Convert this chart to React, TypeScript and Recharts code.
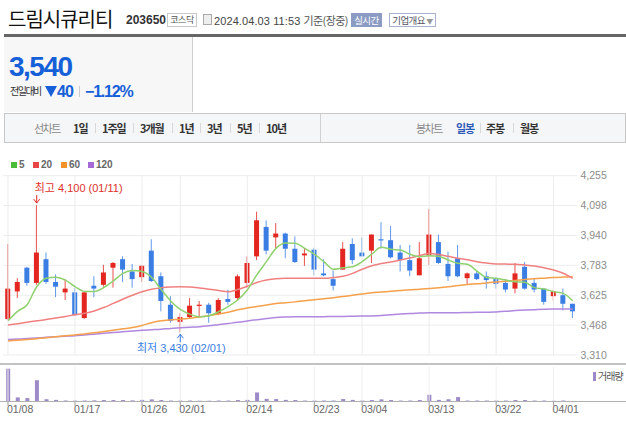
import React from 'react';
import { ComposedChart, BarChart, Bar, Line, XAxis, YAxis, CartesianGrid, ReferenceLine, ReferenceDot } from 'recharts';

// trading days shown on the daily candle chart
const dates = [
  '01/08', '01/09', '01/10', '01/11', '01/12', '01/15', '01/16', '01/17', '01/18', '01/19',
  '01/22', '01/23', '01/24', '01/25', '01/26', '01/29', '01/30', '01/31', '02/01', '02/02',
  '02/05', '02/06', '02/07', '02/08', '02/13', '02/14', '02/15', '02/16', '02/19', '02/20',
  '02/21', '02/22', '02/23', '02/26', '02/27', '02/28', '02/29', '03/04', '03/05', '03/06',
  '03/07', '03/08', '03/11', '03/12', '03/13', '03/14', '03/15', '03/18', '03/19', '03/20',
  '03/21', '03/22', '03/25', '03/26', '03/27', '03/28', '03/29', '04/01', '04/02', '04/03',
];

const openPrices = [
  3500, 3645, 3770, 3690, 3815, 3695, 3640, 3640, 3505, 3675,
  3680, 3770, 3815, 3750, 3720, 3860, 3725, 3575, 3485, 3510,
  3570, 3575, 3525, 3605, 3610, 3690, 3830, 3985, 3930, 3950,
  3870, 3835, 3865, 3740, 3710, 3760, 3895, 3850, 3860, 3920,
  3915, 3850, 3810, 3730, 3835, 3905, 3790, 3820, 3715, 3740,
  3725, 3710, 3690, 3660, 3775, 3690, 3660, 3620, 3625, 3580,
];
const highPrices = [
  3895, 3715, 3775, 4100, 3850, 3735, 3710, 3665, 3645, 3725,
  3785, 3800, 3830, 3790, 3785, 3920, 3745, 3620, 3530, 3610,
  3595, 3585, 3610, 3655, 3735, 3830, 4065, 4020, 4005, 3955,
  3935, 3870, 3875, 3815, 3755, 3905, 3925, 3930, 3945, 4010,
  3990, 3890, 3890, 3905, 4080, 3945, 3855, 3890, 3745, 3755,
  3750, 3720, 3710, 3795, 3800, 3715, 3660, 3655, 3660, 3580,
];
const lowPrices = [
  3495, 3610, 3675, 3680, 3685, 3615, 3600, 3515, 3500, 3615,
  3670, 3665, 3695, 3665, 3695, 3695, 3540, 3480, 3430, 3500,
  3505, 3480, 3520, 3575, 3595, 3665, 3810, 3840, 3870, 3820,
  3795, 3780, 3730, 3725, 3650, 3760, 3790, 3830, 3795, 3870,
  3820, 3750, 3725, 3730, 3785, 3790, 3700, 3720, 3685, 3705,
  3660, 3660, 3640, 3635, 3655, 3640, 3575, 3595, 3545, 3505,
];
const closePrices = [
  3660, 3695, 3690, 3850, 3695, 3670, 3660, 3520, 3640, 3660,
  3745, 3795, 3760, 3710, 3780, 3700, 3595, 3490, 3510, 3570,
  3575, 3530, 3600, 3590, 3725, 3795, 4020, 3860, 3950, 3870,
  3800, 3845, 3760, 3730, 3675, 3870, 3810, 3830, 3945, 3915,
  3825, 3810, 3755, 3820, 3945, 3795, 3725, 3725, 3740, 3710,
  3705, 3685, 3655, 3740, 3660, 3655, 3590, 3645, 3580, 3540,
];
// volume, thousands of shares
const volumes = [
  1000, 130, 110, 650, 75, 55, 35, 35, 35, 40,
  50, 50, 50, 40, 55, 70, 50, 35, 35, 35,
  30, 30, 35, 35, 50, 55, 280, 85, 80, 55,
  50, 35, 35, 35, 35, 80, 55, 35, 50, 70,
  50, 35, 35, 50, 210, 55, 75, 140, 35, 35,
  35, 35, 35, 50, 50, 35, 35, 30, 35, 15,
];

// moving averages as drawn on the chart
const ma5 = [
  3490, 3540, 3575, 3670, 3715, 3720, 3705, 3670, 3645, 3645,
  3665, 3700, 3740, 3755, 3750, 3720, 3655, 3595, 3550, 3525,
  3512, 3517, 3538, 3565, 3600, 3653, 3732, 3802, 3872, 3900,
  3899, 3872, 3841, 3802, 3762, 3770, 3775, 3802, 3841, 3878,
  3867, 3863, 3841, 3828, 3833, 3830, 3811, 3793, 3788, 3752,
  3719, 3714, 3705, 3696, 3693, 3665, 3658, 3644, 3635, 3596,
];
const ma20 = [
  3468, 3475, 3483, 3490, 3497, 3505, 3513, 3522, 3530, 3542,
  3560, 3582, 3604, 3625, 3643, 3657, 3664, 3668, 3670, 3668,
  3663, 3657, 3650, 3643, 3655, 3672, 3692, 3705, 3712, 3714,
  3714, 3714, 3714, 3714, 3718, 3725, 3740, 3762, 3780, 3792,
  3800, 3811, 3822, 3833, 3845, 3840, 3830, 3820, 3812, 3802,
  3795, 3790, 3789, 3788, 3784, 3779, 3770, 3758, 3741, 3714,
];
const ma60 = [
  3384, 3388, 3392, 3396, 3401, 3406, 3411, 3416, 3421, 3427,
  3434, 3441, 3448, 3455, 3466, 3480, 3490, 3495, 3499, 3504,
  3510, 3517, 3526, 3535, 3548, 3558, 3566, 3574, 3581, 3585,
  3590, 3596, 3601, 3607, 3612, 3618, 3625, 3632, 3638, 3642,
  3646, 3650, 3654, 3657, 3661, 3665, 3670, 3676, 3682, 3685,
  3690, 3695, 3699, 3703, 3708, 3712, 3715, 3718, 3721, 3723,
];
const ma120 = [
  3392, 3394, 3397, 3400, 3403, 3406, 3409, 3412, 3416, 3420,
  3424, 3428, 3432, 3436, 3440, 3443, 3446, 3450, 3453, 3456,
  3459, 3464, 3470, 3476, 3482, 3489, 3496, 3502, 3508, 3510,
  3511, 3511, 3512, 3512, 3513, 3513, 3514, 3515, 3516, 3518,
  3522, 3526, 3529, 3531, 3533, 3533, 3533, 3533, 3534, 3535,
  3535, 3537, 3540, 3544, 3547, 3549, 3551, 3552, 3552, 3552,
];

const tickDates = ['01/08', '01/17', '01/26', '02/01', '02/14', '02/23', '03/04', '03/13', '03/22', '04/01'];
const priceTicks = [3310, 3467.5, 3625, 3782.5, 3940, 4097.5, 4255];
const highMark = { date: '01/11', value: 4100 };
const lowMark = { date: '02/01', value: 3430 };

const data = dates.map((date, i) => ({
  date,
  open: openPrices[i],
  high: highPrices[i],
  low: lowPrices[i],
  close: closePrices[i],
  range: [lowPrices[i], highPrices[i]],
  volume: volumes[i],
  ma5: ma5[i],
  ma20: ma20[i],
  ma60: ma60[i],
  ma120: ma120[i],
}));

const UP = '#e3261f';
const DOWN = '#3a7ee4';
const fmt = (v: number) => Math.round(v).toLocaleString('en-US');

const Candle = (props: any) => {
  const { x, y, width, height, payload } = props;
  const { open, close, high, low } = payload;
  const cx = x + width / 2;
  const span = high - low;
  const toY = (v: number) => (span > 0 ? y + ((high - v) / span) * height : y);
  const color = close >= open ? UP : DOWN;
  const top = toY(Math.max(open, close));
  const bottom = toY(Math.min(open, close));
  return (
    <g>
      <line x1={cx} x2={cx} y1={y} y2={y + height} stroke={color} strokeWidth={1} strokeOpacity={0.8} />
      <rect x={cx - 2.5} y={top} width={5} height={Math.max(bottom - top, 1.2)} fill={color} />
    </g>
  );
};

const HighLabel = (props: any) => {
  const { cx, cy } = props;
  const c = '#e0302a';
  return (
    <g>
      <line x1={cx} x2={cx} y1={cy - 10} y2={cy - 2} stroke={c} />
      <path d={`M${cx - 3} ${cy - 6} L${cx} ${cy - 2} L${cx + 3} ${cy - 6}`} fill="none" stroke={c} />
      <text x={cx - 2} y={cy - 13} fill={c} fontSize={11}>
        {`최고 ${fmt(highMark.value)} (${highMark.date})`}
      </text>
    </g>
  );
};

const LowLabel = (props: any) => {
  const { cx, cy } = props;
  const c = '#3a7ee4';
  return (
    <g>
      <line x1={cx} x2={cx} y1={cy + 2} y2={cy + 10} stroke={c} />
      <path d={`M${cx - 3} ${cy + 6} L${cx} ${cy + 2} L${cx + 3} ${cy + 6}`} fill="none" stroke={c} />
      <text x={cx + 1} y={cy + 20} fill={c} fontSize={11} textAnchor="middle">
        {`최저 ${fmt(lowMark.value)} (${lowMark.date})`}
      </text>
    </g>
  );
};

const DateTick = (props: any) => {
  const { x, y, payload } = props;
  return (
    <text x={x - 1} y={y} dy={5} fontSize={10.5} fill="#666" textAnchor="start">
      {payload.value}
    </text>
  );
};

const Abs = ({ x, y, children, style }: any) => (
  <div style={{ position: 'absolute', left: x, top: y, whiteSpace: 'nowrap', lineHeight: '14px', ...style }}>
    {children}
  </div>
);

const kr = "'Noto Sans CJK KR', sans-serif";

const legendItems = [
  { label: '5', color: '#4cbb3a', x: 11 },
  { label: '20', color: '#e84646', x: 33 },
  { label: '60', color: '#f4922a', x: 61 },
  { label: '120', color: '#a46ad6', x: 88 },
];

const leftTabs = [
  { label: '1일', x: 73 },
  { label: '1주일', x: 102 },
  { label: '3개월', x: 140 },
  { label: '1년', x: 179 },
  { label: '3년', x: 207 },
  { label: '5년', x: 237 },
  { label: '10년', x: 266 },
];

export default function App() {
  return (
    <div
      style={{
        position: 'relative',
        width: 626,
        height: 425,
        background: '#fff',
        overflow: 'hidden',
        fontFamily: "'Liberation Sans', 'Noto Sans CJK KR', sans-serif",
        color: '#333',
      }}
    >
      <style>{'body{margin:0}'}</style>

      {/* header */}
      <Abs x={8} y={9} style={{ fontSize: 20, lineHeight: '20px', letterSpacing: -1, color: '#111', fontFamily: kr }}>
        드림시큐리티
      </Abs>
      <Abs x={126} y={13} style={{ fontSize: 12, fontWeight: 'bold', color: '#333' }}>203650</Abs>
      <div style={{ position: 'absolute', left: 167, top: 13, width: 28, height: 12, border: '1px solid #c9c9c9', fontSize: 9, lineHeight: '12px', textAlign: 'center', color: '#555', fontFamily: kr, letterSpacing: -0.5 }}>
        코스닥
      </div>
      <div style={{ position: 'absolute', left: 203, top: 14, width: 7, height: 9, border: '1px solid #aaa', background: '#eee' }} />
      <Abs x={214} y={13} style={{ fontSize: 11, color: '#444', letterSpacing: 0.1 }}>
        2024.04.03 11:53 <span style={{ fontFamily: kr, color: '#555', letterSpacing: -0.6 }}>기준(장중)</span>
      </Abs>
      <div style={{ position: 'absolute', left: 351, top: 13, width: 31, height: 14, background: '#8b9bc3', color: '#fff', fontSize: 9.5, lineHeight: '14px', textAlign: 'center', fontFamily: kr, letterSpacing: -0.5 }}>
        실시간
      </div>
      <div style={{ position: 'absolute', left: 389, top: 13, width: 45, height: 12, border: '1px solid #a9b3cc', color: '#556', fontSize: 9.5, lineHeight: '12px', textAlign: 'center', fontFamily: kr, letterSpacing: -0.6 }}>
        기업개요 <span style={{ fontSize: 7, color: '#999' }}>▼</span>
      </div>
      <div style={{ position: 'absolute', left: 4, top: 34, width: 622, height: 3, background: '#666' }} />

      {/* price box */}
      <div style={{ position: 'absolute', left: 4, top: 37, width: 188, height: 75, background: '#f7f7f7', borderRight: '1px solid #cfcfcf' }} />
      <Abs x={9} y={53} style={{ fontSize: 28, lineHeight: '28px', fontWeight: 'bold', color: '#1560d8', letterSpacing: -1.5 }}>3,540</Abs>
      <Abs x={10} y={84} style={{ fontSize: 10, color: '#333', fontFamily: kr, letterSpacing: -1.5 }}>전일대비</Abs>
      <svg style={{ position: 'absolute', left: 45, top: 86 }} width={12} height={11}>
        <polygon points="0,0 12,0 6,11" fill="#1560d8" />
      </svg>
      <Abs x={57} y={84} style={{ fontSize: 16, lineHeight: '16px', fontWeight: 'bold', color: '#1560d8', letterSpacing: -0.8 }}>40</Abs>
      <div style={{ position: 'absolute', left: 79, top: 86, width: 1, height: 11, background: '#ccc' }} />
      <Abs x={85} y={84} style={{ fontSize: 16, lineHeight: '16px', fontWeight: 'bold', color: '#1560d8', letterSpacing: -1.2 }}>−1.12%</Abs>

      {/* tab bar */}
      <div style={{ position: 'absolute', left: 4, top: 113, width: 620, height: 28, border: '1px solid #c8c8c8', background: '#f5f6f7' }} />
      <div style={{ position: 'absolute', left: 320, top: 114, width: 1, height: 28, background: '#d0d0d0' }} />
      <Abs x={34} y={121} style={{ fontSize: 11, color: '#8a8a8a', fontFamily: kr, letterSpacing: -1.5 }}>선차트</Abs>
      {leftTabs.map((t, i) => (
        <React.Fragment key={t.label}>
          <Abs x={t.x} y={121} style={{ fontSize: 11, fontWeight: 'bold', color: '#333', fontFamily: kr, letterSpacing: -1 }}>{t.label}</Abs>
          {i < leftTabs.length - 1 && (
            <div style={{ position: 'absolute', left: leftTabs[i + 1].x - 7, top: 123, width: 1, height: 10, background: '#d8d8d8' }} />
          )}
        </React.Fragment>
      ))}
      <Abs x={416} y={121} style={{ fontSize: 11, color: '#8a8a8a', fontFamily: kr, letterSpacing: -1.5 }}>봉차트</Abs>
      <Abs x={456} y={121} style={{ fontSize: 11, fontWeight: 'bold', color: '#2d5bb9', fontFamily: kr, letterSpacing: -1 }}>일봉</Abs>
      <div style={{ position: 'absolute', left: 480, top: 123, width: 1, height: 10, background: '#d8d8d8' }} />
      <Abs x={486} y={121} style={{ fontSize: 11, fontWeight: 'bold', color: '#333', fontFamily: kr, letterSpacing: -1 }}>주봉</Abs>
      <div style={{ position: 'absolute', left: 513, top: 123, width: 1, height: 10, background: '#d8d8d8' }} />
      <Abs x={520} y={121} style={{ fontSize: 11, fontWeight: 'bold', color: '#333', fontFamily: kr, letterSpacing: -1 }}>월봉</Abs>

      {/* MA legend */}
      {legendItems.map((m) => (
        <React.Fragment key={m.label}>
          <div style={{ position: 'absolute', left: m.x, top: 162, width: 6, height: 6, background: m.color }} />
          <Abs x={m.x + 8} y={158} style={{ fontSize: 10, fontWeight: 'bold', color: '#666' }}>{m.label}</Abs>
        </React.Fragment>
      ))}

      {/* price chart */}
      <div style={{ position: 'absolute', left: 0, top: 170 }}>
        <ComposedChart width={626} height={190} data={data} margin={{ top: 5.7, right: 0, bottom: 5, left: 3.2 }}>
          <CartesianGrid vertical={false} stroke="#ececec" />
          {tickDates.map((d) => (
            <ReferenceLine key={d} x={d} stroke="#ececec" />
          ))}
          <XAxis dataKey="date" hide />
          <YAxis
            orientation="right"
            domain={[3310, 4255]}
            ticks={priceTicks}
            interval={0}
            width={48.5}
            axisLine={false}
            tickLine={false}
            tickSize={0}
            tickMargin={3}
            tickFormatter={fmt}
            tick={{ fontSize: 10.5, fill: '#8c8c8c' }}
          />
          <Line dataKey="ma120" type="monotone" stroke="#b088e0" strokeWidth={1.5} dot={false} isAnimationActive={false} />
          <Line dataKey="ma60" type="monotone" stroke="#f5a04a" strokeWidth={1.5} dot={false} isAnimationActive={false} />
          <Line dataKey="ma20" type="monotone" stroke="#f08080" strokeWidth={1.5} dot={false} isAnimationActive={false} />
          <Line dataKey="ma5" type="monotone" stroke="#8fd16e" strokeWidth={1.5} dot={false} isAnimationActive={false} />
          <Bar dataKey="range" barSize={5} shape={<Candle />} isAnimationActive={false} />
          <ReferenceDot x={highMark.date} y={highMark.value} r={2} shape={<HighLabel />} />
          <ReferenceDot x={lowMark.date} y={lowMark.value} r={2} shape={<LowLabel />} />
        </ComposedChart>
      </div>

      <div style={{ position: 'absolute', left: 0, top: 363, width: 626, height: 2, background: '#c2c2c2' }} />

      {/* volume chart */}
      <div style={{ position: 'absolute', left: 0, top: 365 }}>
        <BarChart width={626} height={55} data={data} margin={{ top: 2, right: 48.5, bottom: 0, left: 3.2 }}>
          {tickDates.map((d) => (
            <ReferenceLine key={d} x={d} stroke="#efefef" />
          ))}
          <XAxis
            dataKey="date"
            ticks={tickDates}
            interval={0}
            height={18.3}
            axisLine={false}
            tickSize={4}
            tickMargin={2}
            tickLine={{ stroke: '#999' }}
            tick={<DateTick />}
          />
          <YAxis hide domain={[0, 1050]} />
          <Bar dataKey="volume" fill="#9d8ac8" barSize={4} isAnimationActive={false} />
        </BarChart>
      </div>
      <div style={{ position: 'absolute', left: 0, top: 401, width: 626, height: 1, background: '#b0b0b0' }} />
      <div style={{ position: 'absolute', left: 593, top: 372, width: 3, height: 9, background: '#9d8ac8' }} />
      <Abs x={598} y={369} style={{ fontSize: 10, color: '#555', fontFamily: kr, letterSpacing: -1 }}>거래량</Abs>
    </div>
  );
}
